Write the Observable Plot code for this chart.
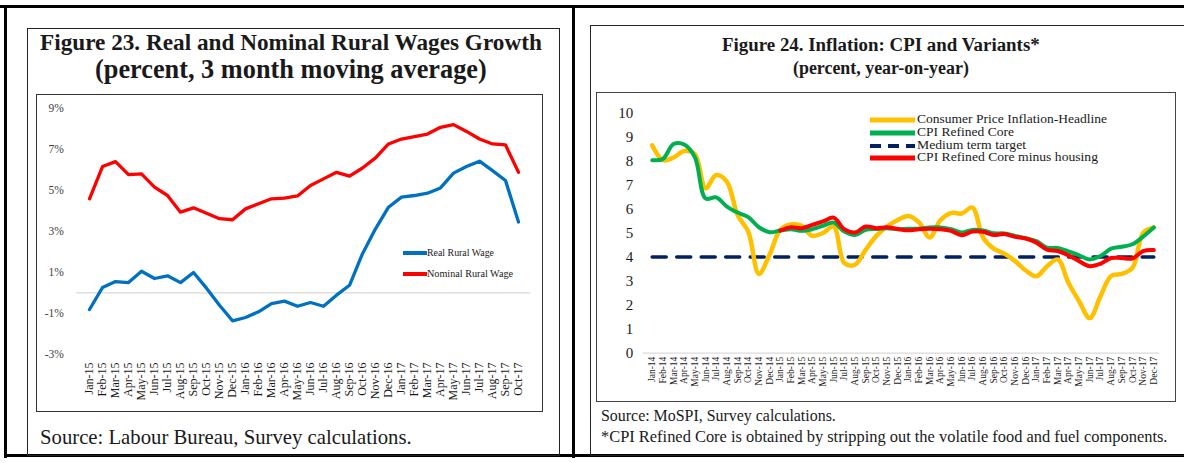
<!DOCTYPE html>
<html><head><meta charset="utf-8">
<script src="https://cdn.jsdelivr.net/npm/d3@7"></script>
<script src="https://cdn.jsdelivr.net/npm/@observablehq/plot@0.6"></script>
<style>
html,body{margin:0;padding:0;background:#fff;}
#root{position:relative;width:1184px;height:463px;overflow:hidden;background:#fff;font-family:"Liberation Serif","DejaVu Serif",serif;color:#1a1a1a;}
.abs{position:absolute;box-sizing:border-box;}
.t{position:absolute;white-space:nowrap;line-height:1;}
svg{overflow:visible;}
</style></head><body><div id="root"></div>
<script>
// ---------- Figure 23 data ----------
const wageMonths = ["Jan-15","Feb-15","Mar-15","Apr-15","May-15","Jun-15","Jul-15","Aug-15","Sep-15","Oct-15","Nov-15","Dec-15",
  "Jan-16","Feb-16","Mar-16","Apr-16","May-16","Jun-16","Jul-16","Aug-16","Sep-16","Oct-16","Nov-16","Dec-16",
  "Jan-17","Feb-17","Mar-17","Apr-17","May-17","Jun-17","Jul-17","Aug-17","Sep-17","Oct-17"];
const realWage = [-0.81,0.26,0.55,0.50,1.05,0.70,0.83,0.50,0.99,0.23,-0.60,-1.36,-1.20,-0.92,-0.52,-0.40,-0.65,-0.47,-0.65,-0.11,0.37,1.91,3.12,4.17,4.66,4.74,4.85,5.11,5.83,6.15,6.41,5.95,5.47,3.45];
const nominalWage = [4.58,6.15,6.39,5.76,5.79,5.15,4.74,3.93,4.14,3.88,3.61,3.56,4.09,4.34,4.58,4.61,4.72,5.23,5.55,5.87,5.68,6.08,6.57,7.25,7.49,7.61,7.73,8.06,8.19,7.86,7.49,7.25,7.20,5.87];
const wageTicks = [-3,-1,1,3,5,7,9];

// ---------- Figure 24 data ----------
const cpiMonths = ["Jan-14","Feb-14","Mar-14","Apr-14","May-14","Jun-14","Jul-14","Aug-14","Sep-14","Oct-14","Nov-14","Dec-14",
  "Jan-15","Feb-15","Mar-15","Apr-15","May-15","Jun-15","Jul-15","Aug-15","Sep-15","Oct-15","Nov-15","Dec-15",
  "Jan-16","Feb-16","Mar-16","Apr-16","May-16","Jun-16","Jul-16","Aug-16","Sep-16","Oct-16","Nov-16","Dec-16",
  "Jan-17","Feb-17","Mar-17","Apr-17","May-17","Jun-17","Jul-17","Aug-17","Sep-17","Oct-17","Nov-17","Dec-17"];
const headline = [8.65,8.03,8.14,8.41,8.28,6.86,7.41,7.13,5.75,5.06,3.30,4.10,5.13,5.35,5.30,4.88,5.00,5.27,3.75,3.68,4.30,4.88,5.27,5.54,
  5.71,5.44,4.81,5.53,5.83,5.81,6.06,4.81,4.35,4.14,3.83,3.44,3.20,3.62,3.90,2.93,2.16,1.46,2.37,3.21,3.30,3.55,5.00,5.23];
const refinedCore = [8.03,8.08,8.70,8.68,8.15,6.44,6.48,6.10,5.85,5.66,5.24,5.03,5.10,5.16,5.09,5.16,5.30,5.43,5.06,4.92,5.13,5.17,5.20,5.16,
  5.18,5.18,5.23,5.23,5.16,5.02,5.13,5.11,4.99,4.98,4.88,4.78,4.66,4.39,4.38,4.24,4.07,3.90,4.04,4.35,4.43,4.53,4.85,5.23];
const coreMinusHousing = [null,null,null,null,null,null,null,null,null,null,null,null,
  5.10,5.24,5.20,5.34,5.48,5.64,5.16,5.02,5.27,5.20,5.24,5.17,
  5.11,5.16,5.18,5.16,5.09,4.91,5.06,5.05,4.92,4.96,4.84,4.77,4.60,4.31,4.25,4.07,3.83,3.62,3.72,3.96,3.96,3.94,4.25,4.29];
const mediumTermTarget = 4;
const cpiTicks = [0,1,2,3,4,5,6,7,8,9,10];

const root = document.getElementById("root");

function box(l, t, w, h, css) {
  const d = document.createElement("div");
  d.className = "abs";
  Object.assign(d.style, {left: l + "px", top: t + "px", width: w + "px", height: h + "px"}, css || {});
  root.appendChild(d);
  return d;
}
// text fitted to a target width; mode "size" scales the font, mode "stretch" keeps size and scales horizontally
function txt(str, x, y, w, size, opts = {}) {
  const d = document.createElement("div");
  d.className = "t";
  d.textContent = str;
  d.style.fontSize = size + "px";
  d.style.fontWeight = opts.weight || "normal";
  d.style.color = opts.color || "#1a1a1a";
  root.appendChild(d);
  const mw = d.getBoundingClientRect().width;
  let s = size;
  if (opts.stretch) {
    d.style.transformOrigin = "0 50%";
    d.style.transform = "scaleX(" + (w / mw) + ")";
  } else {
    s = size * w / mw;
    d.style.fontSize = s + "px";
  }
  const left = opts.anchor === "middle" ? x - w / 2 : x;
  d.style.left = left + "px";
  d.style.top = (y - s / 2) + "px";
  return d;
}
function legendLine(x1, x2, y, color, width, dash) {
  const ns = "http://www.w3.org/2000/svg";
  const s = document.createElementNS(ns, "svg");
  s.setAttribute("width", x2 - x1 + 10);
  s.setAttribute("height", 12);
  s.style.position = "absolute";
  s.style.left = (x1 - 5) + "px";
  s.style.top = (y - 6) + "px";
  const l = document.createElementNS(ns, "line");
  l.setAttribute("x1", 5); l.setAttribute("x2", x2 - x1 + 5);
  l.setAttribute("y1", 6); l.setAttribute("y2", 6);
  l.setAttribute("stroke", color); l.setAttribute("stroke-width", width);
  if (dash) l.setAttribute("stroke-dasharray", dash);
  s.appendChild(l);
  root.appendChild(s);
}

// ---------- frame lines ----------
box(0, 5, 1184, 3, {background: "#000"});
box(4, 5, 3, 453, {background: "#000"});
box(572, 5, 3, 453, {background: "#000"});
box(4, 454, 1180, 3, {background: "#000"});
box(27, 28, 533, 428, {border: "1.5px solid #222"});
box(590, 25, 620, 431, {border: "1.5px solid #222"});
box(36, 94, 507, 318, {border: "1.3px solid #333"});
box(596, 92, 580, 310, {border: "1.3px solid #444"});

// ---------- titles & sources ----------
txt("Figure 23. Real and Nominal Rural Wages Growth", 291, 43, 502, 20, {weight: "bold", anchor: "middle"});
txt("(percent, 3 month moving average)", 291, 70, 392, 20, {weight: "bold", anchor: "middle"});
txt("Source: Labour Bureau, Survey calculations.", 40, 437, 372, 16);
txt("Figure 24. Inflation: CPI and Variants*", 881, 45, 318, 16, {weight: "bold", anchor: "middle"});
txt("(percent, year-on-year)", 881, 69, 176, 16, {weight: "bold", anchor: "middle"});
txt("Source: MoSPI, Survey calculations.", 601, 416, 235, 14);
txt("*CPI Refined Core is obtained by stripping out the volatile food and fuel components.", 601, 437, 567, 14);

// ---------- Figure 23 chart ----------
const wageData = wageMonths.map((m, i) => ({m, real: realWage[i], nominal: nominalWage[i]}));
const left = Plot.plot({
  width: 507, height: 316,
  marginLeft: 47.3, marginRight: 18.7, marginTop: 12.5, marginBottom: 57,
  style: {fontFamily: "Liberation Serif", background: "transparent", color: "#262626", overflow: "visible"},
  x: {type: "point", domain: wageMonths, padding: 0},
  y: {domain: [-3, 9]},
  marks: [
    Plot.ruleY([0], {stroke: "#d9d9d9", strokeWidth: 1.3, insetLeft: -7, insetRight: -6}),
    Plot.axisY({ticks: wageTicks, tickFormat: d => d + "%", tickSize: 0, tickPadding: 20, fontSize: 11.5, fill: "#404040", label: null}),
    Plot.axisX({tickRotate: -90, tickSize: 0, tickPadding: 8, fontSize: 12, fill: "#1a1a1a", label: null}),
    Plot.line(wageData, {x: "m", y: "real", stroke: "#0070C0", strokeWidth: 3.3}),
    Plot.line(wageData, {x: "m", y: "nominal", stroke: "#FF0000", strokeWidth: 3.3})
  ]
});
left.style.position = "absolute";
left.style.left = "36px";
left.style.top = "95px";
root.appendChild(left);

legendLine(403, 427, 253, "#0070C0", 4);
legendLine(403, 427, 274, "#FF0000", 4);
txt("Real Rural Wage", 427, 253, 67, 10, {stretch: true});
txt("Nominal Rural Wage", 427, 274, 86, 10, {stretch: true});

// ---------- Figure 24 chart ----------
const cpiData = cpiMonths.map((m, i) => ({m, headline: headline[i], core: refinedCore[i], exHousing: coreMinusHousing[i], target: mediumTermTarget}));
const right = Plot.plot({
  width: 577, height: 308,
  marginLeft: 54.7, marginRight: 20.7, marginTop: 19.3, marginBottom: 48.3,
  style: {fontFamily: "Liberation Serif", background: "transparent", color: "#1a1a1a", overflow: "visible"},
  x: {type: "point", domain: cpiMonths, padding: 0},
  y: {domain: [0, 10]},
  marks: [
    Plot.ruleY([0], {stroke: "#d9d9d9", strokeWidth: 1.3, insetLeft: -9, insetRight: -6}),
    Plot.axisY({ticks: cpiTicks, tickSize: 0, tickPadding: 19, fontSize: 15, fill: "#1a1a1a", label: null}),
    Plot.axisX({tickRotate: -90, tickSize: 0, tickPadding: 3.5, fontSize: 9.5, fill: "#1a1a1a", label: null}),
    Plot.line(cpiData, {x: "m", y: "target", stroke: "#002060", strokeWidth: 3.5, strokeDasharray: "14,10.5"}),
    Plot.line(cpiData, {x: "m", y: "headline", stroke: "#FFC000", strokeWidth: 4.5, curve: "catmull-rom"}),
    Plot.line(cpiData, {x: "m", y: "core", stroke: "#00B050", strokeWidth: 4, curve: "catmull-rom"}),
    Plot.line(cpiData.filter(d => d.exHousing != null), {x: "m", y: "exHousing", stroke: "#FF0000", strokeWidth: 4, curve: "catmull-rom"})
  ]
});
right.style.position = "absolute";
right.style.left = "597px";
right.style.top = "93px";
root.appendChild(right);

legendLine(870, 915, 120, "#FFC000", 5);
legendLine(870, 915, 133, "#00B050", 5);
legendLine(870, 915, 145.5, "#002060", 4, "11,7");
legendLine(870, 915, 158, "#FF0000", 5);
txt("Consumer Price Inflation-Headline", 917, 120, 190, 11.5, {stretch: true});
txt("CPI Refined Core", 917, 133, 97, 11.5, {stretch: true});
txt("Medium term target", 917, 145.5, 109, 11.5, {stretch: true});
txt("CPI Refined Core minus housing", 917, 158, 181, 11.5, {stretch: true});
</script>
</body></html>
